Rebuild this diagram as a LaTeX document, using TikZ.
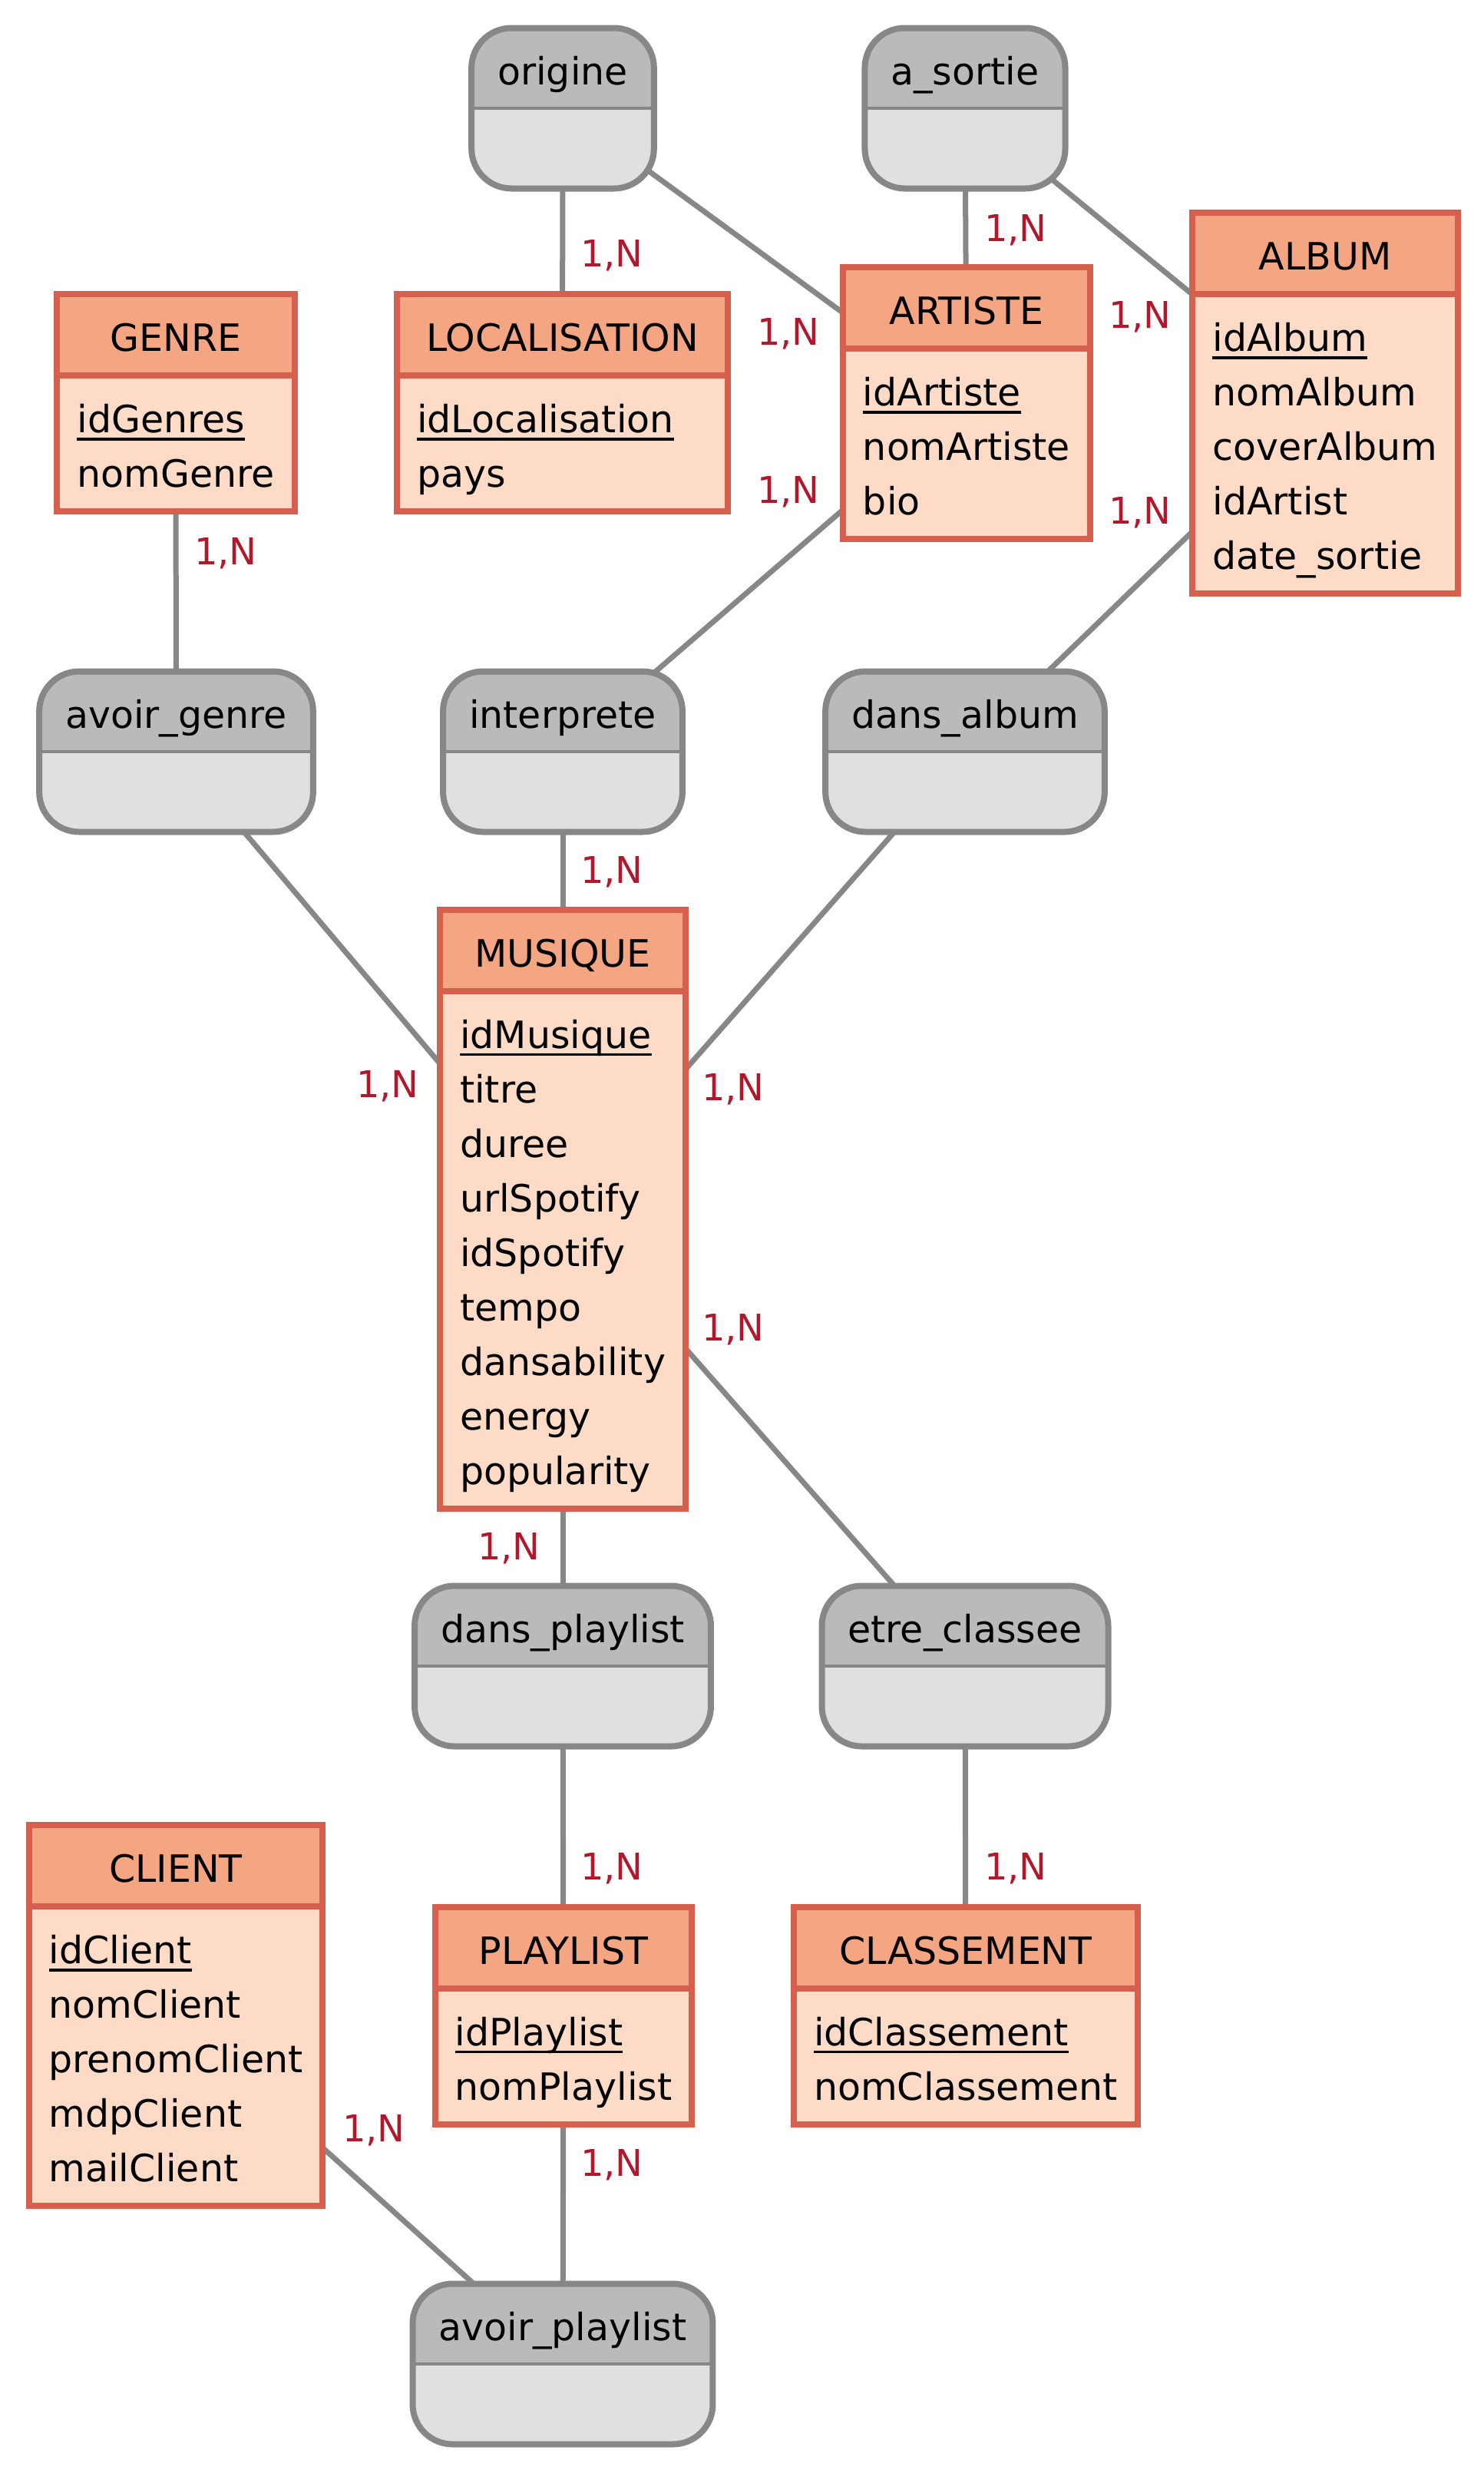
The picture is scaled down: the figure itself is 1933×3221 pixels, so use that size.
\documentclass[tikz,border=0pt]{standalone}
\usepackage{fontspec}
\setmainfont{DejaVu Sans}
\usepackage{xcolor}
\usepackage{tikz}
\usetikzlibrary{shapes.multipart,positioning,backgrounds}

\definecolor{entline}{HTML}{D6604D}
\definecolor{enthead}{HTML}{F4A582}
\definecolor{entbody}{HTML}{FDDBC7}
\definecolor{relline}{HTML}{878787}
\definecolor{relhead}{HTML}{BABABA}
\definecolor{relbody}{HTML}{E0E0E0}
\definecolor{cardred}{HTML}{B2182B}

% one row of an entity box
\newcommand{\erow}{\rule[-14pt]{0pt}{71pt}}
% identifier, underlined
\newcommand{\pkey}[1]{\setbox0\hbox{#1}\rlap{\rule[-10pt]{\wd0}{3.5pt}}\box0}

\begin{document}
\begin{tikzpicture}[
        x=1pt, y=-1pt,
        % Styles
        entity/.style={
            rectangle split,
            rectangle split parts=2,
            rectangle split part fill={enthead,entbody},
            rectangle split part align={center,left},
            draw=entline,
            line width=8pt,
            align=left,
            inner xsep=26pt,
            inner ysep=13.5pt,
            font=\fontsize{49}{71}\selectfont
        },
        relation/.style={
            rectangle,
            rounded corners=52pt,
            draw=relline,
            line width=8pt,
            fill=relbody,
            inner xsep=34pt,
            inner ysep=17.5pt,
            text height=56pt,
            text depth=118pt,
            font=\fontsize{49}{71}\selectfont,
            path picture={
                \fill[relhead, sharp corners] (path picture bounding box.north west)
                    rectangle (path picture bounding box.east);
                \draw[relline, line width=4pt, sharp corners] (path picture bounding box.west)
                    -- (path picture bounding box.east);
            }
        },
        link/.style={
            draw=relline,
            line width=7pt
        },
        card/.style={
            text=cardred,
            font=\fontsize{48}{56}\selectfont
        }
    ]

    \useasboundingbox (0,0) rectangle (1933,3221);

    % Entities
    \node[entity] (genre) at (229,524.5) {\erow GENRE
        \nodepart{two}\erow\pkey{idGenres}\\\erow nomGenre};
    \node[entity, minimum width=431pt] (localisation) at (732.5,524.5) {\erow LOCALISATION
        \nodepart{two}\erow\pkey{idLocalisation}\\\erow pays};
    \node[entity] (artiste) at (1259,525) {\erow ARTISTE
        \nodepart{two}\erow\pkey{idArtiste}\\\erow nomArtiste\\\erow bio};
    \node[entity] (album) at (1726,525) {\erow ALBUM
        \nodepart{two}\erow\pkey{idAlbum}\\\erow nomAlbum\\\erow coverAlbum\\
        \erow idArtist\\\erow date\_sortie};
    \node[entity] (musique) at (733,1574.5) {\erow MUSIQUE
        \nodepart{two}\erow\pkey{idMusique}\\\erow titre\\\erow duree\\
        \erow urlSpotify\\\erow idSpotify\\\erow tempo\\\erow dansability\\
        \erow energy\\\erow popularity};
    \node[entity] (client) at (229,2625) {\erow CLIENT
        \nodepart{two}\erow\pkey{idClient}\\\erow nomClient\\\erow prenomClient\\
        \erow mdpClient\\\erow mailClient};
    \node[entity] (playlist) at (734,2625) {\erow PLAYLIST
        \nodepart{two}\erow\pkey{idPlaylist}\\\erow nomPlaylist};
    \node[entity] (classement) at (1258,2625) {\erow CLASSEMENT
        \nodepart{two}\erow\pkey{idClassement}\\\erow nomClassement};

    % Associations
    \node[relation] (origine) at (733,141) {origine};
    \node[relation] (asortie) at (1257,141) {a\_sortie};
    \node[relation] (avoirgenre) at (229.5,979) {avoir\_genre};
    \node[relation] (interprete) at (733,979) {interprete};
    \node[relation] (dansalbum) at (1257,979) {dans\_album};
    \node[relation] (dansplaylist) at (733,2170) {dans\_playlist};
    \node[relation] (etreclassee) at (1257,2170) {etre\_classee};
    \node[relation] (avoirplaylist) at (733,3079) {avoir\_playlist};

    % Links, behind the boxes
    \begin{pgfonlayer}{background}
        \draw[link] (origine.center) -- (localisation.center);
        \draw[link] (origine.center) -- (artiste.center);
        \draw[link] (asortie.center) -- (artiste.center);
        \draw[link] (asortie.center) -- (album.center);
        \draw[link] (avoirgenre.center) -- (genre.center);
        \draw[link] (avoirgenre.center) -- (musique.center);
        \draw[link] (interprete.center) -- (artiste.center);
        \draw[link] (interprete.center) -- (musique.center);
        \draw[link] (dansalbum.center) -- (album.center);
        \draw[link] (dansalbum.center) -- (musique.center);
        \draw[link] (dansplaylist.center) -- (musique.center);
        \draw[link] (dansplaylist.center) -- (playlist.center);
        \draw[link] (etreclassee.center) -- (musique.center);
        \draw[link] (etreclassee.center) -- (classement.center);
        \draw[link] (avoirplaylist.center) -- (client.center);
        \draw[link] (avoirplaylist.center) -- (playlist.center);
    \end{pgfonlayer}

    % Cardinalities
    \node[card] (c1) at (797,333) {1,N};
    \node[card] (c2) at (1027,435) {1,N};
    \node[card] (c3) at (1323,300) {1,N};
    \node[card] (c4) at (1485,413) {1,N};
    \node[card] (c5) at (294,721) {1,N};
    \node[card] (c6) at (1027,641) {1,N};
    \node[card] (c7) at (1485,668) {1,N};
    \node[card] (c8) at (797,1136) {1,N};
    \node[card] (c9) at (505,1415) {1,N};
    \node[card] (c10) at (955,1419) {1,N};
    \node[card] (c11) at (955,1732) {1,N};
    \node[card] (c12) at (663,2017) {1,N};
    \node[card] (c13) at (797,2434) {1,N};
    \node[card] (c14) at (1323,2434) {1,N};
    \node[card] (c15) at (487,2775) {1,N};
    \node[card] (c16) at (797,2820) {1,N};

\end{tikzpicture}
\end{document}
